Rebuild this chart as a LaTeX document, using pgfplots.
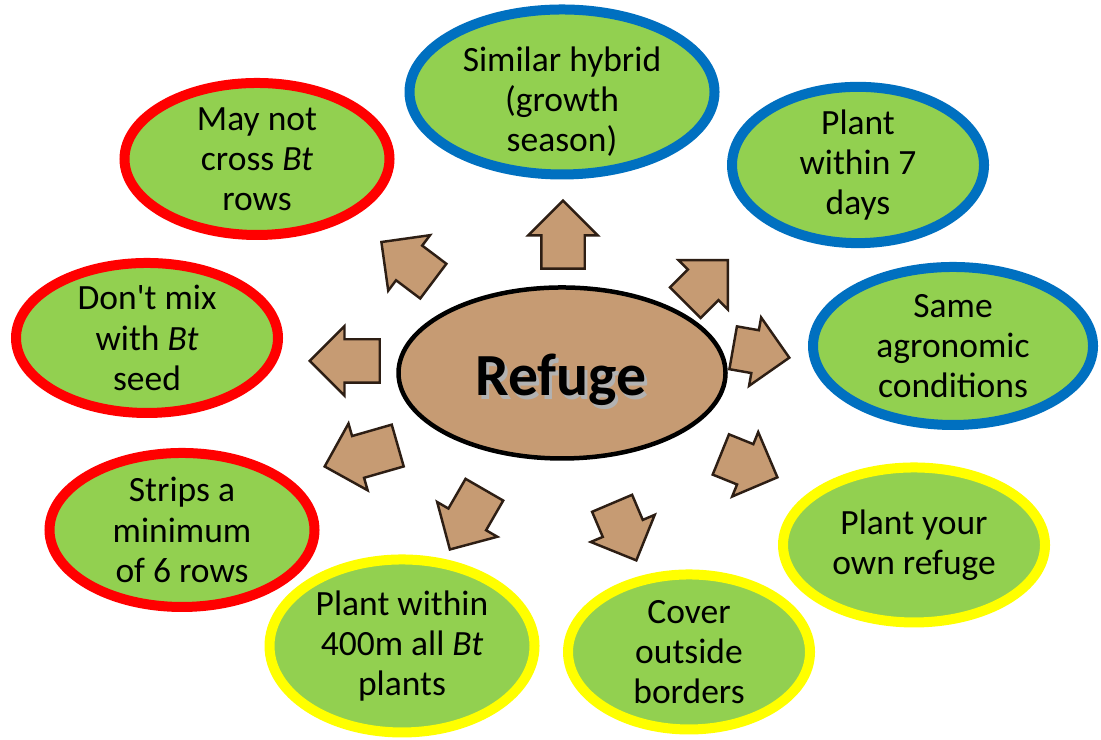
\documentclass[border=0pt]{standalone}
\usepackage{pgfplots}
\pgfplotsset{compat=1.18}
\usepackage{fontspec}
\setmainfont{Carlito}
\usetikzlibrary{shapes.geometric,shapes.arrows}
\definecolor{leaf}{RGB}{146,208,80}
\definecolor{bred}{RGB}{255,0,0}
\definecolor{bblue}{RGB}{0,112,192}
\definecolor{byel}{RGB}{255,255,0}
\definecolor{sand}{RGB}{198,155,115}
\definecolor{sandline}{RGB}{45,30,20}
\newcommand\bubfont{\fontsize{10.1pt}{11.4pt}\selectfont}
\pgfplotsset{
 bub/.style n args={4}{only marks, mark=none, nodes near coords={#4},
   every node near coord/.style={ellipse, draw=#1, line width=0.1cm, fill=leaf,
   minimum width=#2, minimum height=#3, inner sep=0pt, align=center, anchor=center,
   font=\bubfont, text=black}},
 arr/.style n args={2}{only marks, mark=none, nodes near coords={\mbox{}},
   every node near coord/.style={single arrow, draw=sandline, line width=0.7pt, fill=sand,
   minimum height=#2, minimum width=0.67cm, single arrow head extend=0.13cm,
   inner xsep=0pt, inner ysep=0.205cm, rotate=#1, anchor=tip}},
 txt/.style={only marks, mark=none, nodes near coords={#1},
   every node near coord/.style={inner sep=0pt, align=center, anchor=center,
   font=\bubfont, text=black}},
}
\begin{document}
\begin{tikzpicture}
\begin{axis}[scale only axis, width=11.01cm, height=7.4cm,
  xmin=0, xmax=1101, ymin=0, ymax=740, y dir=reverse,
  hide axis, clip=false, at={(0,0)}, anchor=south west]
\addplot[draw=none, fill=white, mark=none] coordinates {(0,0) (1101,0) (1101,740) (0,740)};
% bubbles
\addplot[bub={bblue}{3.05cm}{1.65cm}{\mbox{}}] coordinates {(562,92)};
\addplot[txt={Similar hybrid\\(growth\\season)}] coordinates {(562,102)};
\addplot[bub={bblue}{2.52cm}{1.50cm}{Plant\\within 7\\days}] coordinates {(858,165)};
\addplot[bub={bblue}{2.80cm}{1.58cm}{Same\\agronomic\\conditions}] coordinates {(953,346)};
\addplot[bub={byel}{2.62cm}{1.55cm}{Plant your\\own refuge}] coordinates {(914,545)};
\addplot[bub={byel}{2.42cm}{1.55cm}{Cover\\outside\\borders}] coordinates {(689,652)};
\addplot[bub={byel}{2.65cm}{1.73cm}{Plant within\\400m all \textit{Bt}\\plants}] coordinates {(402,646)};
\addplot[bub={bred}{2.65cm}{1.54cm}{Strips a\\minimum\\of 6 rows}] coordinates {(182,530)};
\addplot[bub={bred}{2.62cm}{1.50cm}{Don\textquotesingle t mix\\with \textit{Bt}\\seed}] coordinates {(147,338)};
\addplot[bub={bred}{2.65cm}{1.52cm}{May not\\cross \textit{Bt}\\rows}] coordinates {(257,159)};
% arrows (anchored at the tip)
\addplot[arr={90}{0.68cm}] coordinates {(563,199)};
\addplot[arr={143}{0.65cm}] coordinates {(380,241)};
\addplot[arr={45}{0.60cm}] coordinates {(729,259)};
\addplot[arr={-10}{0.57cm}] coordinates {(791,358)};
\addplot[arr={-22}{0.61cm}] coordinates {(779,478)};
\addplot[arr={-67}{0.62cm}] coordinates {(637,562)};
\addplot[arr={240}{0.69cm}] coordinates {(449,551)};
\addplot[arr={196}{0.76cm}] coordinates {(323,467)};
\addplot[arr={180}{0.70cm}] coordinates {(308,361)};
% centre
\addplot[only marks, mark=none, nodes near coords={\mbox{}},
  every node near coord/.style={ellipse, draw=black, line width=0.045cm, fill=sand,
  minimum width=3.27cm, minimum height=1.71cm, inner sep=0pt, anchor=center}] coordinates {(562,373)};
\addplot[only marks, mark=none, nodes near coords={Refuge},
  every node near coord/.style={anchor=center, inner sep=0pt, text=black!30,
  font=\fontsize{17pt}{17pt}\selectfont\bfseries}] coordinates {(564,384)};
\addplot[only marks, mark=none, nodes near coords={Refuge},
  every node near coord/.style={anchor=center, inner sep=0pt, text=black,
  font=\fontsize{17pt}{17pt}\selectfont\bfseries}] coordinates {(561,380)};
\end{axis}
\end{tikzpicture}
\end{document}
